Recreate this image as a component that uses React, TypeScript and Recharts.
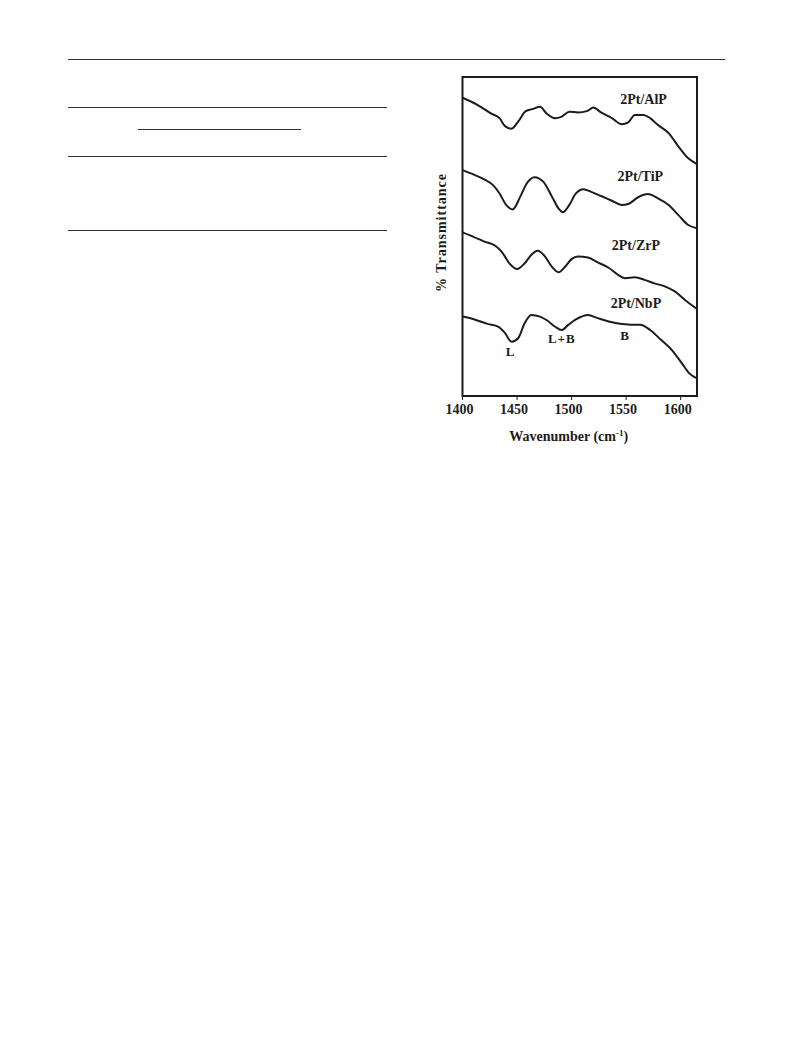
import React from "react";
import { LineChart, Line, XAxis, YAxis, ReferenceArea, ReferenceDot } from "recharts";

// wavenumber (cm-1) / transmittance (arb. units, offset stacked)
const alpW = [1400, 1414, 1426, 1434, 1439, 1445, 1451, 1458, 1465, 1471, 1477, 1485, 1491, 1498, 1506, 1514, 1520, 1527, 1537, 1546, 1552, 1558, 1566, 1572, 1579, 1589, 1598, 1607, 1615];
const alpT = [93.5, 91.2, 88.6, 87.1, 84.6, 83.8, 86.0, 89.3, 90.0, 90.7, 88.6, 87.1, 87.6, 89.1, 88.9, 89.3, 90.4, 88.9, 87.1, 85.2, 85.8, 88.1, 88.1, 87.1, 85.0, 82.4, 78.2, 74.5, 72.7];

const tipW = [1400, 1411, 1420, 1428, 1434, 1440, 1446, 1453, 1459, 1466, 1474, 1482, 1488, 1492, 1498, 1504, 1511, 1518, 1527, 1537, 1546, 1552, 1561, 1570, 1579, 1589, 1598, 1607, 1615];
const tipT = [70.8, 69.3, 67.9, 66.1, 63.5, 59.9, 58.5, 62.5, 66.7, 68.6, 67.2, 62.5, 58.8, 57.6, 59.9, 63.5, 64.8, 64.0, 62.7, 61.2, 59.9, 60.2, 62.3, 63.3, 62.0, 59.9, 56.7, 53.6, 52.6];

const zrpW = [1400, 1410, 1420, 1430, 1436, 1443, 1450, 1457, 1463, 1469, 1475, 1482, 1488, 1494, 1500, 1506, 1515, 1524, 1534, 1543, 1549, 1558, 1567, 1576, 1586, 1595, 1604, 1615];
const zrpT = [51.3, 49.9, 48.4, 47.1, 45.2, 41.6, 39.8, 41.6, 44.2, 45.5, 44.0, 40.5, 38.8, 40.5, 42.9, 43.7, 43.4, 41.9, 40.2, 37.9, 36.9, 37.2, 36.4, 35.3, 34.3, 32.7, 30.1, 27.3];

const nbpW = [1400, 1411, 1423, 1433, 1439, 1445, 1451, 1457, 1463, 1471, 1478, 1485, 1491, 1497, 1504, 1515, 1524, 1535, 1546, 1555, 1563, 1572, 1582, 1592, 1601, 1608, 1615];
const nbpT = [24.9, 24.0, 22.6, 21.7, 19.7, 17.0, 18.1, 22.8, 25.4, 24.9, 23.6, 21.7, 20.7, 22.3, 24.0, 25.4, 24.4, 23.3, 22.6, 22.3, 22.3, 20.7, 17.6, 14.4, 10.3, 7.1, 5.5];

const xTicks = [1400, 1450, 1500, 1550, 1600];

const notes = [
  { text: "2Pt/AlP", w: 1566, t: 93.1 },
  { text: "2Pt/TiP", w: 1563, t: 69.0 },
  { text: "2Pt/ZrP", w: 1559, t: 47.3 },
  { text: "2Pt/NbP", w: 1559, t: 29.2 },
  { text: "L", w: 1444, t: 14.0 },
  { text: "L+B", w: 1491, t: 18.0 },
  { text: "B", w: 1549, t: 19.1 },
];

const toRows = (w: number[], t: number[]) => w.map((x, i) => ({ w: x, t: t[i] }));

const serif = '"Liberation Serif", "Times New Roman", serif';
const ink = "#1c1c1c";

const XTitle = (props: any) => {
  const vb = props.viewBox;
  return (
    <text x={vb.x + vb.width / 2 - 11} y={vb.y + 45} textAnchor="middle" fontFamily={serif} fontWeight="bold" fontSize={14} fill={ink}>
      Wavenumber (cm<tspan dy={-5} fontSize={9}>-1</tspan><tspan dy={5}>)</tspan>
    </text>
  );
};

const YTitle = (props: any) => {
  const vb = props.viewBox;
  const cx = vb.x + 31;
  const cy = vb.y + vb.height / 2 - 4;
  return (
    <text x={cx} y={cy} transform={`rotate(-90 ${cx} ${cy})`} textAnchor="middle" dominantBaseline="central" fontFamily={serif} fontWeight="bold" fontSize={14} letterSpacing={1} fill={ink}>
      % Transmittance
    </text>
  );
};

const rule = (top: number, left: number, width: number, h = 1) => (
  <div style={{ position: "absolute", top, left, width, height: h, background: "#333" }} />
);

export default function App() {
  return (
    <div style={{ position: "absolute", left: 0, top: 0, width: 793, height: 1053, background: "#fff" }}>
      {rule(59, 68, 657)}
      {rule(107, 68, 319)}
      {rule(129, 138, 163)}
      {rule(156, 68, 319)}
      {rule(230, 68, 319)}

      <div style={{ position: "absolute", left: 400, top: 60 }}>
        <LineChart width={310} height={400} margin={{ top: 17, right: 13, bottom: 0, left: 10 }}>
          <XAxis
            type="number"
            dataKey="w"
            domain={[1400, 1615]}
            ticks={xTicks}
            allowDataOverflow
            axisLine={false}
            tickSize={4}
            tickMargin={4}
            tickLine={{ stroke: ink }}
            height={64}
            tick={{ fill: ink, fontSize: 14, fontWeight: "bold", fontFamily: serif, dx: -3 }}
            label={<XTitle />}
          />
          <YAxis type="number" domain={[0, 100]} allowDataOverflow width={52.5} tick={false} axisLine={false} tickLine={false} label={<YTitle />} />
          <ReferenceArea x1={1400} x2={1615} y1={0} y2={100} fill="none" stroke={ink} strokeWidth={2} ifOverflow="visible" />
          <Line data={toRows(alpW, alpT)} dataKey="t" type="monotone" dot={false} stroke={ink} strokeWidth={2} isAnimationActive={false} />
          <Line data={toRows(tipW, tipT)} dataKey="t" type="monotone" dot={false} stroke={ink} strokeWidth={2} isAnimationActive={false} />
          <Line data={toRows(zrpW, zrpT)} dataKey="t" type="monotone" dot={false} stroke={ink} strokeWidth={2} isAnimationActive={false} />
          <Line data={toRows(nbpW, nbpT)} dataKey="t" type="monotone" dot={false} stroke={ink} strokeWidth={2} isAnimationActive={false} />
          {notes.map((n) => (
            <ReferenceDot
              key={n.text}
              x={n.w}
              y={n.t}
              r={0}
              fill="none"
              stroke="none"
              label={{ value: n.text, position: "center", fill: ink, fontSize: n.text.length > 3 ? 14 : 13, fontWeight: "bold", fontFamily: serif, letterSpacing: n.text.length > 3 ? 0 : 1 }}
            />
          ))}
        </LineChart>
      </div>
    </div>
  );
}
